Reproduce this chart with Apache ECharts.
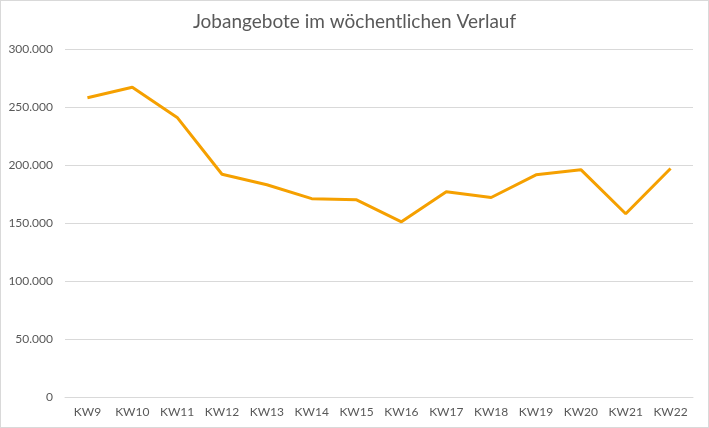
<!DOCTYPE html>
<html><head><meta charset="utf-8">
<script src="https://cdn.jsdelivr.net/npm/echarts@6/dist/echarts.min.js"></script>
<style>html,body{margin:0;padding:0;background:#fff}#c{width:709px;height:428px;box-sizing:border-box;border:1px solid #d9d9d9}</style>
</head><body><div id="c"></div>
<script>
const categories=['KW9','KW10','KW11','KW12','KW13','KW14','KW15','KW16','KW17','KW18','KW19','KW20','KW21','KW22'];
const values=[258000,267000,241000,192000,183000,171000,170000,151000,177000,172000,191500,196000,158000,197000];
const chart=echarts.init(document.getElementById('c'));
chart.setOption({
  animation:false,
  title:{text:'Jobangebote im wöchentlichen Verlauf',left:'center',top:6,textStyle:{fontFamily:'Lato',fontSize:19,fontWeight:'normal',color:'#595959'}},
  grid:{left:64,right:15,top:48,bottom:30},
  xAxis:{type:'category',data:categories,boundaryGap:true,axisLine:{lineStyle:{color:'#d9d9d9'}},axisTick:{show:false},
    axisLabel:{fontFamily:'Lato',fontSize:12,color:'#595959',margin:9}},
  yAxis:{type:'value',min:0,max:300000,interval:50000,axisLine:{show:false},axisTick:{show:false},
    splitLine:{lineStyle:{color:'#d9d9d9'}},
    axisLabel:{fontFamily:'Lato',fontSize:12,color:'#595959',margin:12,formatter:v=>v===0?'0':v.toLocaleString('de-DE')}},
  series:[{type:'line',data:values,symbol:'none',lineStyle:{color:'#f5a000',width:3},itemStyle:{color:'#f5a000'}}]
});
</script></body></html>
